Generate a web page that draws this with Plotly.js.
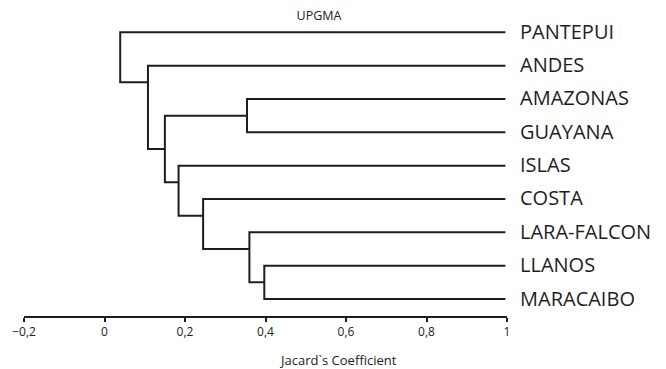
<!DOCTYPE html>
<html>
<head>
<meta charset="utf-8">
<script src="https://cdn.plot.ly/plotly-3.0.1.min.js"></script>
<style>html,body{margin:0;padding:0;background:#fff;}#chart{width:666px;height:369px;}</style>
</head>
<body>
<div id="chart"></div>
<script>
// Leaves (top to bottom)
const leafNames = ['PANTEPUI','ANDES','AMAZONAS','GUAYANA','ISLAS','COSTA','LARA-FALCON','LLANOS','MARACAIBO'];
const leafCoef = 0.996;
// Internal nodes: id = 9 + index; children ids
const nodeLeft  = [7, 6, 5, 4, 2, 13, 1, 0];
const nodeRight = [8, 9, 10, 11, 3, 12, 14, 15];
const nodeCoef  = [0.397, 0.36, 0.245, 0.184, 0.354, 0.15, 0.108, 0.039];
const nodeRow   = [7.5, 6.5, 5.5, 4.5, 2.5, 3.5, 1.5, 0.75];
// Axis ticks
const tickVals = [-0.2, 0, 0.2, 0.4, 0.6, 0.8, 1];
const tickText = ['\u22120,2', '0', '0,2', '0,4', '0,6', '0,8', '1'];
const chartTitle = 'UPGMA';
const axisTitle = 'Jacard`s Coefficient';

const nLeaves = leafNames.length;
function coefOf(id){ return id < nLeaves ? leafCoef : nodeCoef[id - nLeaves]; }
function rowOf(id){ return id < nLeaves ? id : nodeRow[id - nLeaves]; }

const xs = [], ys = [];
for (let k = 0; k < nodeCoef.length; k++) {
  const a = nodeLeft[k], b = nodeRight[k], h = nodeCoef[k];
  xs.push(coefOf(a), h, h, coefOf(b), null);
  ys.push(rowOf(a), rowOf(a), rowOf(b), rowOf(b), null);
}

const traces = [{
  x: xs, y: ys, type: 'scatter', mode: 'lines',
  line: {color: '#1e1e1e', width: 2},
  hoverinfo: 'skip', showlegend: false, cliponaxis: false
}];

const annotations = leafNames.map((name, i) => ({
  x: leafCoef, y: i, xref: 'x', yref: 'y', text: name, showarrow: false,
  xanchor: 'left', yanchor: 'middle', xshift: 13, yshift: 1,
  font: {family: 'Open Sans, sans-serif', size: 20, color: '#1e1e1e'}
}));
annotations.push({
  x: 0.581, y: -0.144, xref: 'x', yref: 'paper', text: axisTitle, showarrow: false,
  xanchor: 'center', yanchor: 'middle',
  font: {family: 'Open Sans, sans-serif', size: 13, color: '#222'}
});

const layout = {
  width: 666, height: 369,
  margin: {l: 24, r: 159, t: 10, b: 53},
  paper_bgcolor: '#fff', plot_bgcolor: '#fff',
  title: {text: chartTitle, x: 0.479, xref: 'container', xanchor: 'center',
          y: 0.959, yref: 'container', yanchor: 'middle',
          font: {family: 'Open Sans, sans-serif', size: 12.5, color: '#222'}},
  xaxis: {
    range: [-0.2, 1.0], showgrid: false, zeroline: false,
    showline: true, linecolor: '#1e1e1e', linewidth: 2,
    ticks: 'outside', ticklen: 4, tickwidth: 2, tickcolor: '#1e1e1e',
    tickvals: tickVals, ticktext: tickText,
    tickfont: {family: 'Open Sans, sans-serif', size: 12, color: '#222'}
  },
  yaxis: {
    range: [8.51, -0.669], visible: false, showgrid: false, zeroline: false
  },
  annotations: annotations
};

Plotly.newPlot('chart', traces, layout, {displayModeBar: false, staticPlot: true});
</script>
</body>
</html>
